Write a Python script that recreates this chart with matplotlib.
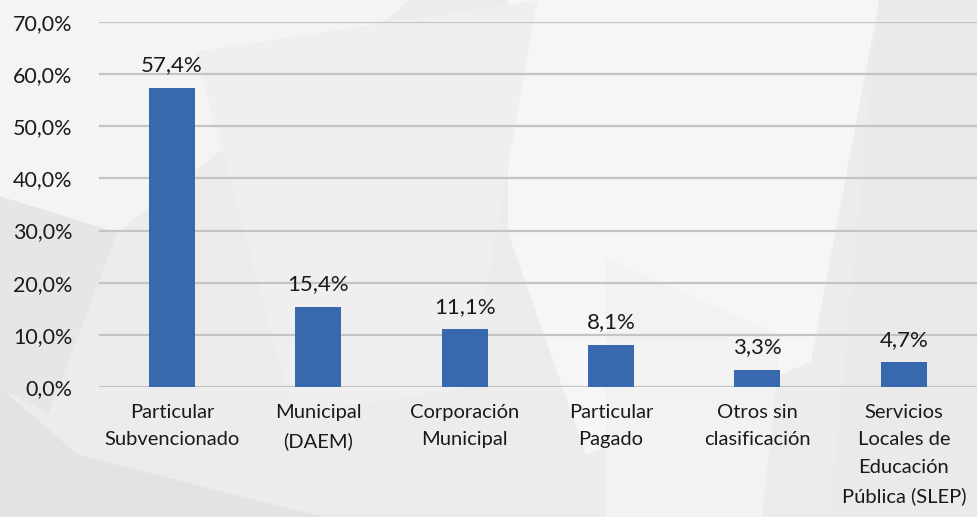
import matplotlib
matplotlib.use("Agg")
import matplotlib.pyplot as plt
from matplotlib.patches import Polygon
from matplotlib.ticker import FuncFormatter

categories = ["Particular\nSubvencionado", "Municipal\n(DAEM)", "Corporación\nMunicipal",
              "Particular\nPagado", "Otros sin\nclasificación",
              "Servicios\nLocales de\nEducación\nPública (SLEP)"]
values = [57.4, 15.4, 11.1, 8.1, 3.3, 4.7]
yticks = [0, 10, 20, 30, 40, 50, 60, 70]

plt.rcParams['font.family'] = ['Lato', 'DejaVu Sans']

fig = plt.figure(figsize=(9.77, 5.17), dpi=100)
fig.patch.set_facecolor("#ececec")

# background geometric shapes (decorative, subtle)
shapes = [
    ([(0, 1), (0.42, 1), (0.12, 0.55), (0, 0.62)], "#f4f4f4"),
    ([(0, 0.62), (0.12, 0.55), (0.05, 0.2), (0, 0.25)], "#e6e6e6"),
    ([(0, 0.25), (0.08, 0.12), (0.33, 0), (0, 0)], "#e3e3e3"),
    ([(0.52, 1), (0.9, 1), (0.83, 0.3), (0.6, 0.12), (0.52, 0.55)], "#f6f6f6"),
    ([(0.2, 0.9), (0.55, 1), (0.48, 0.25), (0.3, 0.2)], "#efefef"),
    ([(0.9, 1), (1, 1), (1, 0), (0.85, 0)], "#eaeaea"),
    ([(0.62, 0.5), (0.8, 0.35), (0.78, 0.0), (0.62, 0.0)], "#f2f2f2"),
]
for pts, col in shapes:
    fig.add_artist(Polygon(pts, closed=True, transform=fig.transFigure,
                           facecolor=col, edgecolor="none", zorder=-10))

ax = fig.add_axes([0.101, 0.2515, 0.899, 0.706])
ax.set_facecolor("none")

x = list(range(len(categories)))
bars = ax.bar(x, values, width=0.315, color="#3868ae", zorder=3)
for xi, v in zip(x, values):
    ax.annotate(f"{v:.1f}%".replace(".", ","), (xi, v), xytext=(0, 9),
                textcoords="offset points", ha="center", va="bottom",
                fontsize=16, color="#1a1a1a")

ax.set_xlim(-0.5, len(categories) - 0.5)
ax.set_ylim(0, 70)
ax.set_yticks(yticks)
ax.yaxis.set_major_formatter(FuncFormatter(lambda v, p: f"{v:.1f}%".replace(".", ",")))
ax.set_xticks(x)
ax.set_xticklabels(categories, linespacing=1.75)
ax.tick_params(axis="y", length=0, pad=19, labelsize=15.5, labelcolor="#1a1a1a")
ax.tick_params(axis="x", length=0, pad=12, labelsize=14.5, labelcolor="#1a1a1a")
ax.grid(axis="y", color="#c4c4c4", linewidth=1.6, zorder=0)
for s in ax.spines.values():
    s.set_visible(False)

fig.savefig("out.png", dpi=100, facecolor=fig.get_facecolor())
